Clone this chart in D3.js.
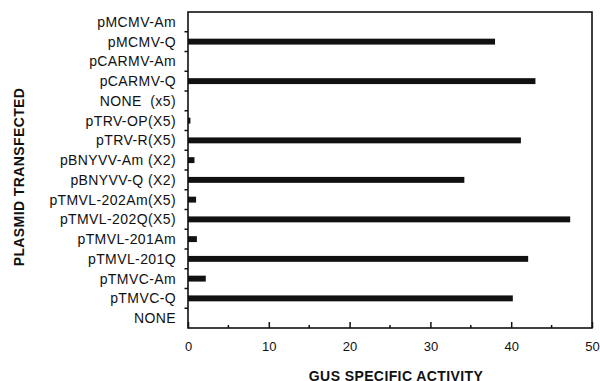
<!DOCTYPE html>
<html>
<head>
<meta charset="utf-8">
<script src="https://cdn.jsdelivr.net/npm/d3@7"></script>
<style>
  body { margin: 0; background: #fff; }
  text { font-family: "Liberation Sans", Arial, sans-serif; fill: #111; }
</style>
</head>
<body>
<svg width="600" height="381"></svg>
<script>
var plasmids = ["pMCMV-Am", "pMCMV-Q", "pCARMV-Am", "pCARMV-Q", "NONE  (x5)", "pTRV-OP(X5)",
  "pTRV-R(X5)", "pBNYVV-Am (X2)", "pBNYVV-Q (X2)", "pTMVL-202Am(X5)", "pTMVL-202Q(X5)",
  "pTMVL-201Am", "pTMVL-201Q", "pTMVC-Am", "pTMVC-Q", "NONE"];
var activity = [0, 38.0, 0, 43.0, 0, 0.3, 41.2, 0.8, 34.2, 1.0, 47.3, 1.1, 42.1, 2.2, 40.2, 0];
var xTicks = [0, 10, 20, 30, 40, 50];
var xMinor = [5, 15, 25, 35, 45];

var svg = d3.select("svg");
var plotLeft = 188, plotRight = 592, plotTop = 12, plotBottom = 328;

var x = d3.scaleLinear().domain([0, 50]).range([plotLeft, plotRight]);
var y = d3.scaleBand().domain(plasmids).range([plotTop, plotBottom]).paddingInner(0.7).paddingOuter(0.35);
var rows = d3.scaleBand().domain(plasmids).range([plotTop, plotBottom]);

// frame
svg.append("rect")
  .attr("x", plotLeft).attr("y", plotTop)
  .attr("width", plotRight - plotLeft).attr("height", plotBottom - plotTop)
  .attr("fill", "none").attr("stroke", "#111").attr("stroke-width", 1.6);

// bars
svg.selectAll(".bar").data(activity)
  .enter().append("rect")
  .attr("class", "bar")
  .attr("x", x(0))
  .attr("y", function(d, i) { return y(plasmids[i]); })
  .attr("width", function(d) { return x(d) - x(0); })
  .attr("height", y.bandwidth())
  .attr("fill", "#111");

// y ticks at row boundaries, outward
svg.selectAll(".ytick").data(plasmids.slice(1))
  .enter().append("line")
  .attr("x1", plotLeft - 3.5).attr("x2", plotLeft)
  .attr("y1", function(d) { return rows(d); })
  .attr("y2", function(d) { return rows(d); })
  .attr("stroke", "#111").attr("stroke-width", 1.5);

// y labels
svg.selectAll(".ylab").data(plasmids)
  .enter().append("text")
  .attr("x", 176)
  .attr("y", function(d) { return rows(d) + rows.bandwidth() / 2 + 5; })
  .attr("text-anchor", "end")
  .style("font-size", "14px")
  .style("letter-spacing", "0.4px")
  .style("white-space", "pre")
  .text(function(d) { return d; });

// x axis ticks, inward
var xAxis = d3.axisBottom(x).tickValues(xTicks).tickSize(-6).tickPadding(14).tickFormat(d3.format("d"));
var g = svg.append("g").attr("transform", "translate(0," + plotBottom + ")").call(xAxis);
g.select(".domain").remove();
g.selectAll("line").attr("stroke", "#111").attr("stroke-width", 1.5);
g.selectAll("text").style("font-size", "13px").attr("fill", "#111")
  .style("font-family", "'Liberation Sans', Arial, sans-serif");

svg.selectAll(".minor").data(xMinor)
  .enter().append("line")
  .attr("x1", function(d) { return x(d); }).attr("x2", function(d) { return x(d); })
  .attr("y1", plotBottom - 3).attr("y2", plotBottom)
  .attr("stroke", "#111").attr("stroke-width", 1.5);

// titles
svg.append("text")
  .attr("x", 396).attr("y", 381)
  .attr("text-anchor", "middle")
  .style("font-size", "14px").style("font-weight", "bold")
  .style("letter-spacing", "0.4px")
  .text("GUS SPECIFIC ACTIVITY");

svg.append("text")
  .attr("transform", "translate(24,177) rotate(-90)")
  .attr("text-anchor", "middle")
  .style("font-size", "14px").style("font-weight", "bold")
  .style("letter-spacing", "0.4px")
  .text("PLASMID TRANSFECTED");
</script>
</body>
</html>
